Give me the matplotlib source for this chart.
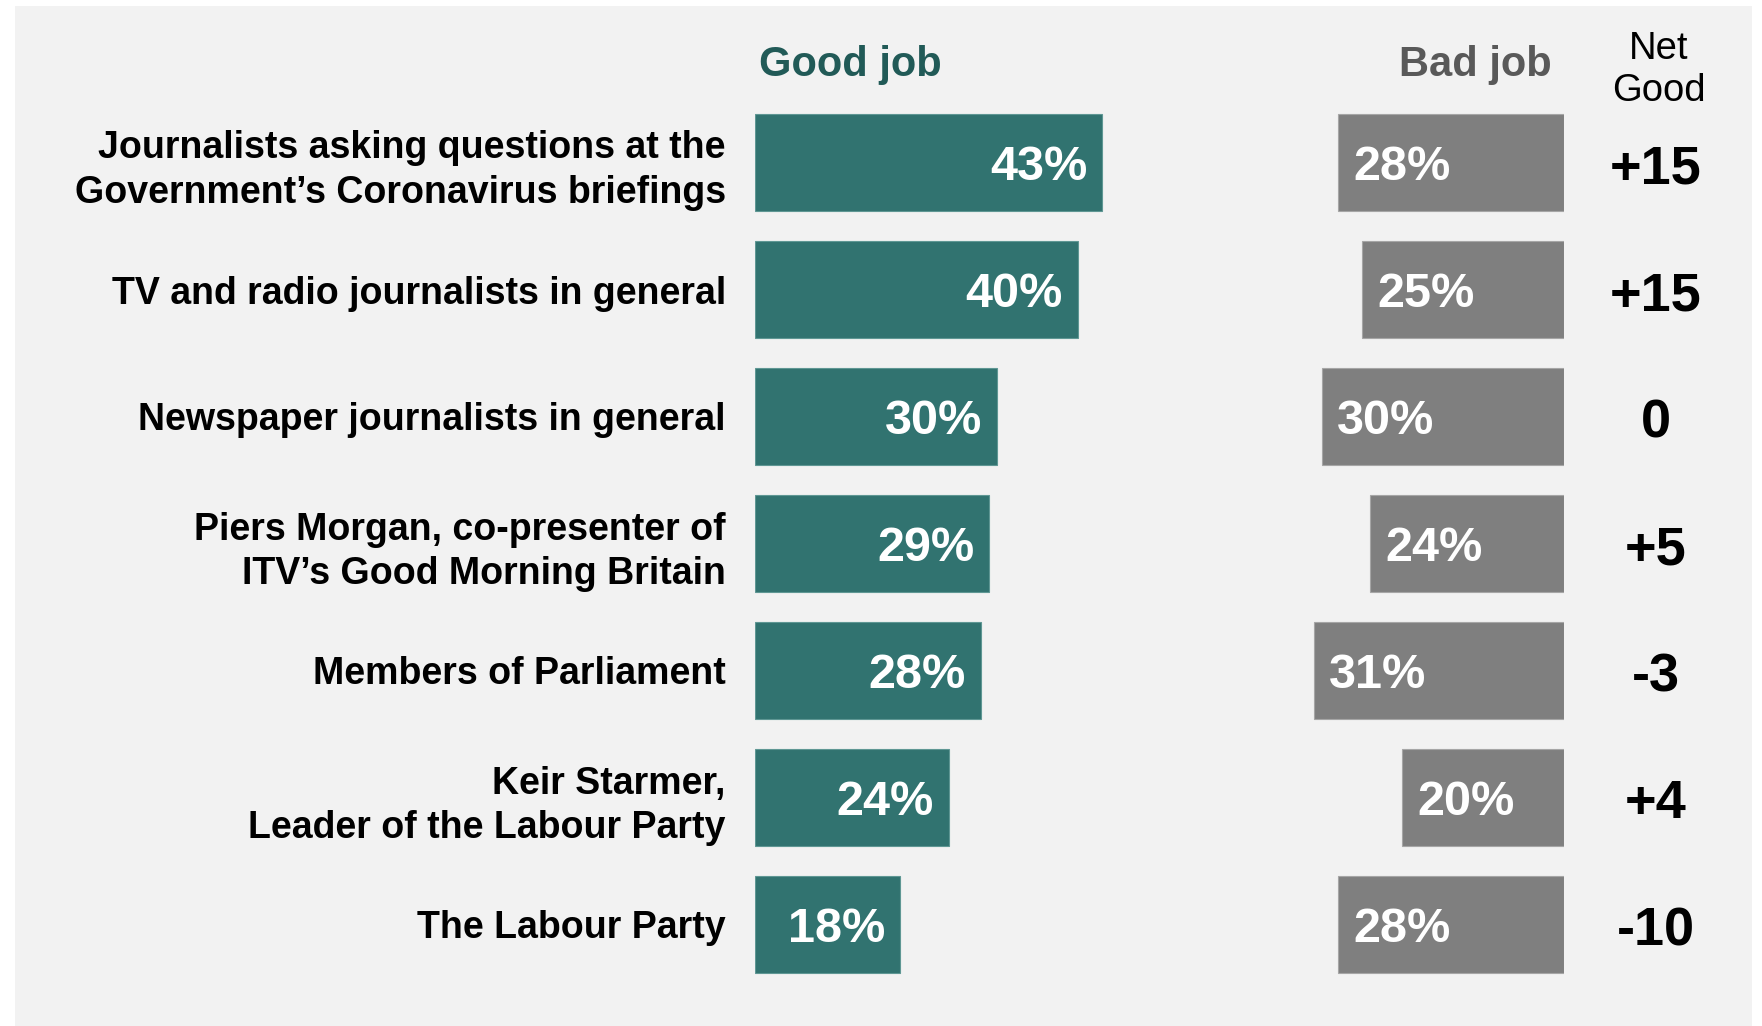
import matplotlib
matplotlib.use("Agg")
import matplotlib.pyplot as plt
from matplotlib.patches import Rectangle

plt.rcParams['font.family'] = ['Liberation Sans', 'DejaVu Sans']

# data
categories = ['Journalists asking questions at the\nGovernment\u2019s Coronavirus briefings',
              'TV and radio journalists in general',
              'Newspaper journalists in general',
              'Piers Morgan, co-presenter of\nITV\u2019s Good Morning Britain',
              'Members of Parliament',
              'Keir Starmer,\nLeader of the Labour Party',
              'The Labour Party']
good_job = [43, 40, 30, 29, 28, 24, 18]
bad_job = [28, 25, 30, 24, 31, 20, 28]
net_good = ['+15', '+15', '0', '+5', '-3', '+4', '-10']

GREEN = '#317370'
GREY = '#7f7f7f'
BG = '#f2f2f2'

W, H = 1762, 1026
fig = plt.figure(figsize=(W / 100, H / 100), dpi=100)
fig.patch.set_facecolor('white')
# grey panel behind everything
fig.patches.append(Rectangle((15 / W, 0), (1752 - 15) / W, (1026 - 6) / H,
                             transform=fig.transFigure, facecolor=BG, edgecolor='none', zorder=-5))

top, bottom = 99, 988
ax_good = fig.add_axes([755 / W, 1 - bottom / H, 404 / W, (bottom - top) / H])
ax_bad = fig.add_axes([1160 / W, 1 - bottom / H, 404 / W, (bottom - top) / H])

y = list(range(len(categories)))
ax_good.barh(y, good_job, height=0.765, color=GREEN, edgecolor='#5f9794', linewidth=0.8)
ax_bad.barh(y, bad_job, height=0.765, color=GREY, edgecolor='#a6a6a6', linewidth=0.8)

for ax in (ax_good, ax_bad):
    ax.set_facecolor('none')
    ax.set_xlim(0, 50)
    ax.set_ylim(len(categories) - 0.5, -0.5)
    for s in ax.spines.values():
        s.set_visible(False)
    ax.set_xticks([])
ax_bad.invert_xaxis()
ax_bad.set_yticks([])

ax_good.set_yticks(y)
ax_good.set_yticklabels(categories, fontsize=27, fontweight='bold', linespacing=1.3)
ax_good.tick_params(axis='y', length=0, pad=21)

for i, v in enumerate(good_job):
    ax_good.annotate(f'{v}%', (v, i), xytext=(-11, -3.3), textcoords='offset points',
                     ha='right', va='center', color='white', fontsize=35, fontweight='bold')
for i, v in enumerate(bad_job):
    ax_bad.annotate(f'{v}%', (v, i), xytext=(11, -3.3), textcoords='offset points',
                    ha='left', va='center', color='white', fontsize=35, fontweight='bold')
    ax_bad.annotate(net_good[i], (1.227, i), xycoords=ax_bad.get_yaxis_transform(),
                    xytext=(0, -5), textcoords='offset points',
                    ha='center', va='center', fontsize=39, fontweight='bold', color='black')

fig.text(759 / W, 1 - 65 / H, 'Good job', ha='left', va='center', fontsize=30,
         fontweight='bold', color='#215a57')
fig.text(1552 / W, 1 - 65 / H, 'Bad job', ha='right', va='center', fontsize=30,
         fontweight='bold', color='#595959')
fig.text(1659 / W, 1 - 70 / H, 'Net\nGood', ha='center', va='center', fontsize=27.5,
         color='black', linespacing=1.2)

fig.savefig('out.png', dpi=100, facecolor=fig.get_facecolor())
